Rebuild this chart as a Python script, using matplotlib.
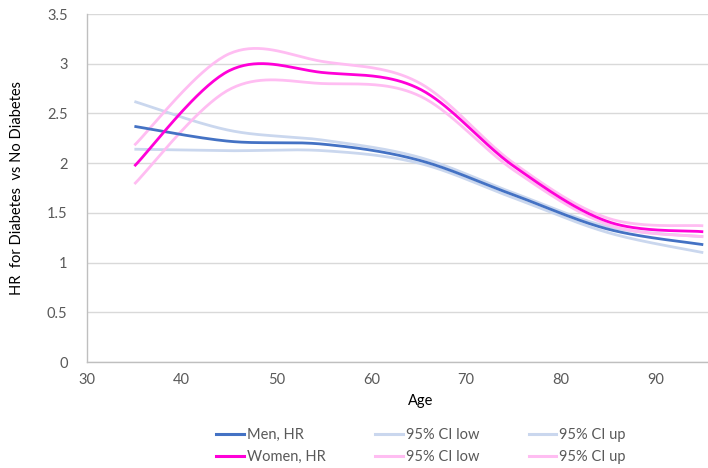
import numpy as np
import matplotlib
matplotlib.use("Agg")
import matplotlib.pyplot as plt
from matplotlib.lines import Line2D

plt.rcParams['font.family'] = ['Lato', 'DejaVu Sans']

age = [35, 45, 55, 65, 75, 85, 95]

men_hr = [2.37, 2.22, 2.19, 2.03, 1.68, 1.335, 1.18]
men_lo = [2.14, 2.125, 2.125, 2.00, 1.65, 1.30, 1.10]
men_up = [2.62, 2.33, 2.23, 2.06, 1.70, 1.36, 1.26]

women_hr = [1.97, 2.93, 2.91, 2.75, 1.97, 1.41, 1.31]
women_lo = [1.79, 2.74, 2.80, 2.68, 1.93, 1.38, 1.26]
women_up = [2.18, 3.10, 3.02, 2.81, 2.00, 1.445, 1.37]

legend_labels = ["Men, HR", "Women, HR", "95% CI low", "95% CI low",
                 "95% CI up", "95% CI up"]

BLUE = "#4472C4"
BLUE_LIGHT = "#CAD7EE"
MAGENTA = "#FF00D8"
PINK_LIGHT = "#FFBDF2"
GRAY_TXT = "#595959"


def smooth(xs, ys, n=40):
    """Cubic Bezier smoothing through every point (Catmull-Rom style)."""
    p = np.column_stack([xs, ys]).astype(float)
    ext = np.vstack([p[0], p, p[-1]])
    t = np.linspace(0, 1, n)[:, None]
    out = []
    for i in range(len(p) - 1):
        p0, p1, p2, p3 = ext[i], ext[i + 1], ext[i + 2], ext[i + 3]
        c1 = p1 + (p2 - p0) / 6.0
        c2 = p2 - (p3 - p1) / 6.0
        seg = ((1 - t) ** 3) * p1 + 3 * ((1 - t) ** 2) * t * c1 \
            + 3 * (1 - t) * t ** 2 * c2 + t ** 3 * p2
        out.append(seg if i == 0 else seg[1:])
    seg = np.vstack(out)
    return seg[:, 0], seg[:, 1]


fig = plt.figure(figsize=(7.08, 4.68), dpi=100)
ax = fig.add_axes([87 / 708, 1 - 362 / 468, 1 - 87 / 708, (362 - 14) / 468])

series = [
    (men_lo, BLUE_LIGHT, 2.0, 2),
    (men_up, BLUE_LIGHT, 2.0, 2),
    (women_lo, PINK_LIGHT, 2.0, 3),
    (women_up, PINK_LIGHT, 2.0, 3),
    (men_hr, BLUE, 2.0, 4),
    (women_hr, MAGENTA, 2.0, 5),
]
for ys, col, lw, z in series:
    sx, sy = smooth(age, ys)
    ax.plot(sx, sy, color=col, lw=lw, zorder=z, solid_capstyle='butt')

ax.set_xlim(30, 95.5)
ax.set_ylim(0, 3.5)
ax.set_xticks(np.arange(30, 91, 10))
ax.set_yticks(np.arange(0, 3.51, 0.5))
ax.set_yticklabels(["0", "0.5", "1", "1.5", "2", "2.5", "3", "3.5"])
ax.yaxis.grid(True, color="#D9D9D9", lw=1.0)
ax.set_axisbelow(True)
ax.tick_params(axis='both', length=0, labelsize=10.5, labelcolor=GRAY_TXT)
ax.tick_params(axis='y', pad=14)
ax.tick_params(axis='x', pad=8)
for s in ['top', 'right']:
    ax.spines[s].set_visible(False)
for s in ['left', 'bottom']:
    ax.spines[s].set_color("#BFBFBF")
    ax.spines[s].set_linewidth(1.0)

fig.text(421 / 708, 1 - 401 / 468, "Age", ha='center', va='center',
         fontsize=10.5, color="#000000")
fig.text(17 / 708, 1 - 188 / 468, "HR  for Diabetes  vs No Diabetes",
         rotation=90, ha='center', va='center', fontsize=10.5, color="#000000")

handles = [
    Line2D([], [], color=BLUE, lw=2.2),
    Line2D([], [], color=MAGENTA, lw=2.2),
    Line2D([], [], color=BLUE_LIGHT, lw=2.2),
    Line2D([], [], color=PINK_LIGHT, lw=2.2),
    Line2D([], [], color=BLUE_LIGHT, lw=2.2),
    Line2D([], [], color=PINK_LIGHT, lw=2.2),
]
leg = fig.legend(handles, legend_labels, ncol=3, loc='center',
                 bbox_to_anchor=(421 / 708, 1 - 446 / 468), frameon=False,
                 fontsize=10.5, handlelength=1.9, handletextpad=0.2,
                 columnspacing=3.4, labelspacing=0.55)
for t in leg.get_texts():
    t.set_color(GRAY_TXT)

fig.savefig("out.png", dpi=100)
